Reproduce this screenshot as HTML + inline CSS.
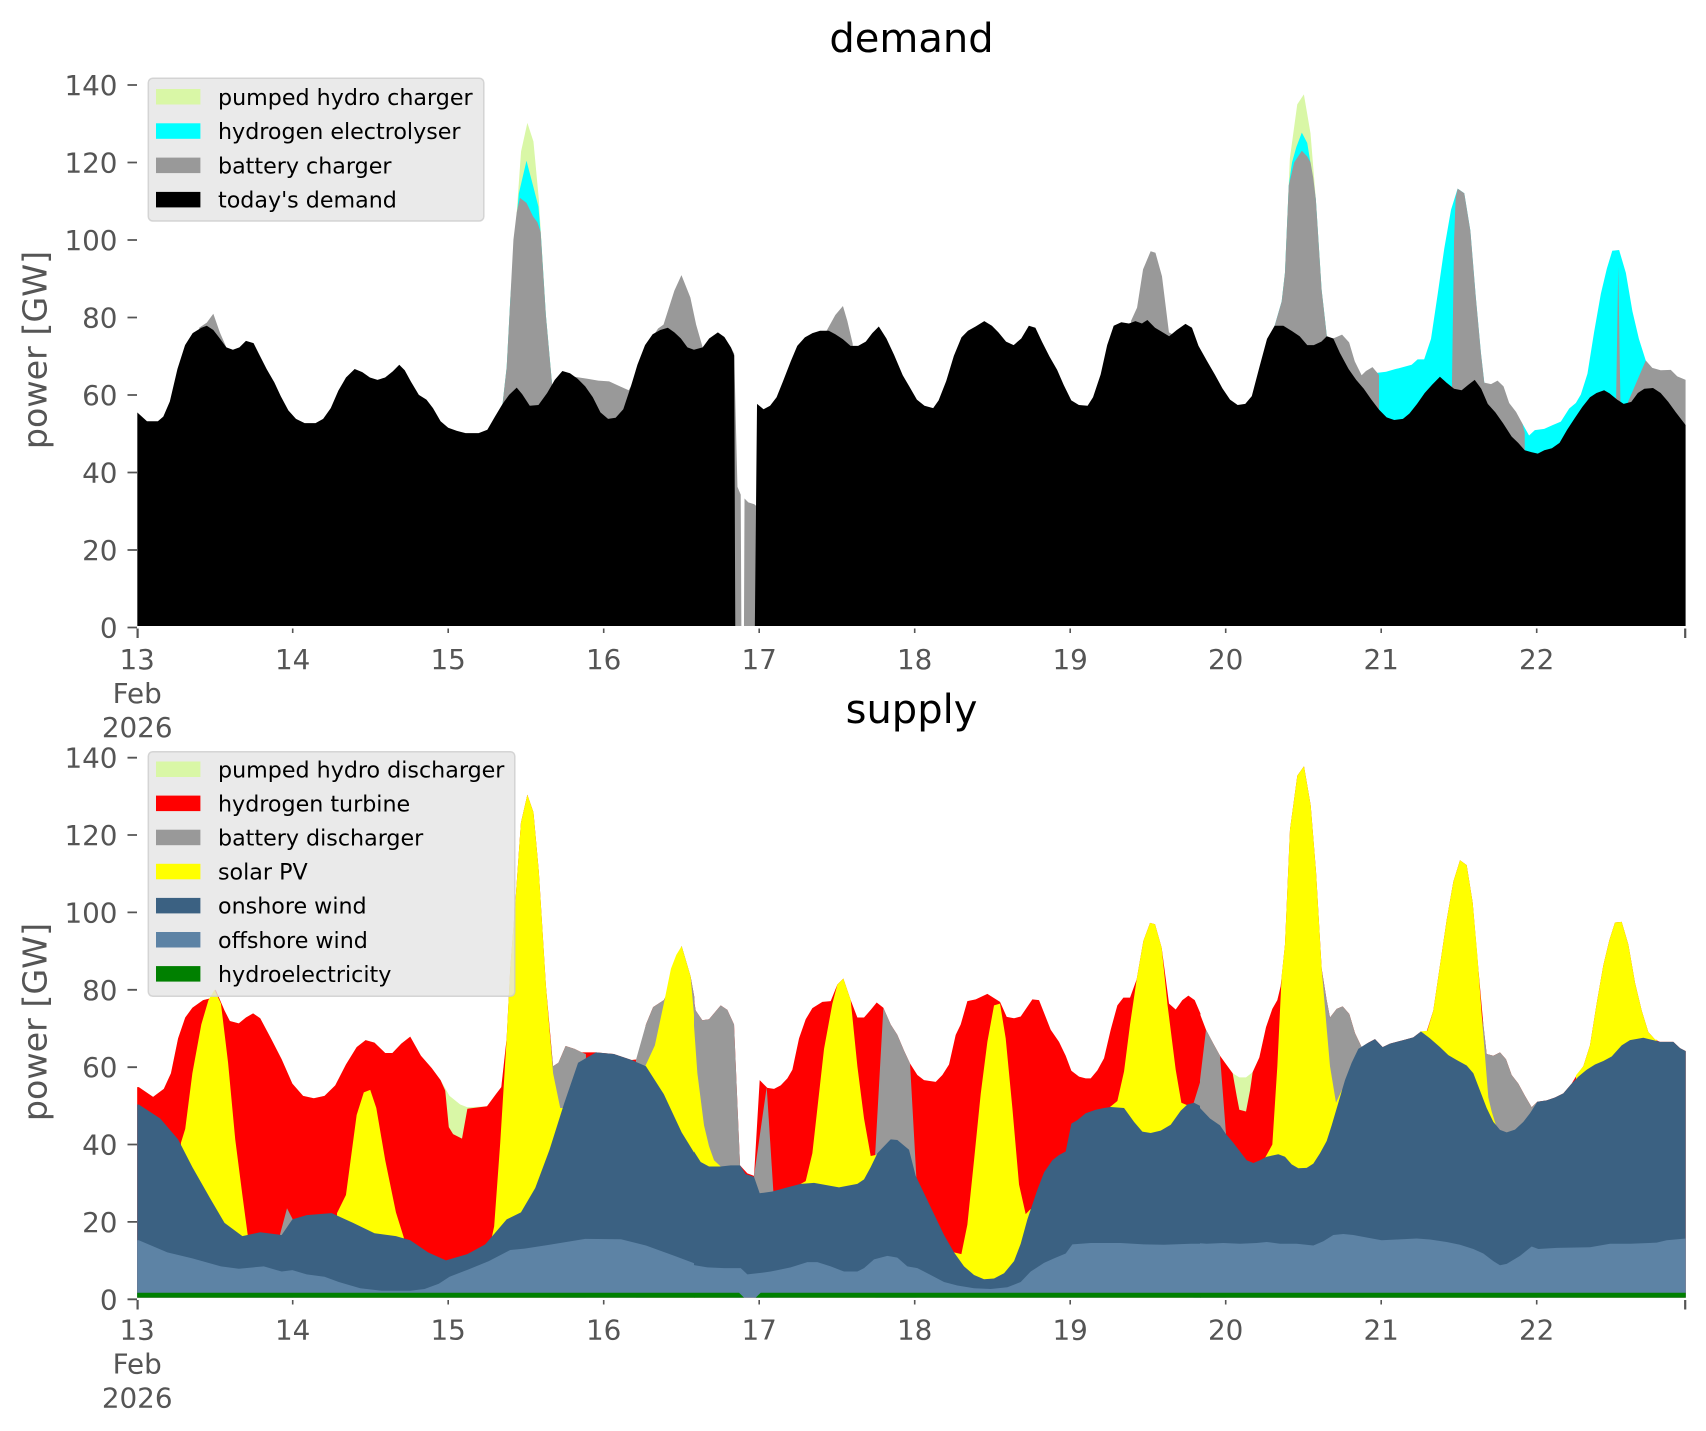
<!DOCTYPE html>
<html>
<head>
<meta charset="utf-8">
<style>
html,body{margin:0;padding:0;background:#fff;}
svg{display:block;}
text{font-family:"DejaVu Sans","Liberation Sans",sans-serif;}
</style>
</head>
<body>
<svg width="1706" height="1431" viewBox="0 0 1706 1431" xmlns="http://www.w3.org/2000/svg">
<defs>
<clipPath id="cA" clipPathUnits="userSpaceOnUse"><rect x="137.2" y="680" width="557.3" height="625"/></clipPath>
<clipPath id="cB" clipPathUnits="userSpaceOnUse"><rect x="694" y="680" width="506.5" height="625"/></clipPath>
<clipPath id="cC" clipPathUnits="userSpaceOnUse"><rect x="1200" y="680" width="485.7" height="625"/></clipPath>
<clipPath id="cU" clipPathUnits="userSpaceOnUse"><rect x="137.2" y="0" width="1548.5" height="626.5"/></clipPath>
</defs>
<rect x="0" y="0" width="1706" height="1431" fill="#fff"/>

<!-- ================= UPPER: demand ================= -->
<g clip-path="url(#cU)">
<g transform="matrix(1.08741 0 0 -3.864 0.186 626)">
<g fill="#d9f7a6">
<polygon points="462,57.5 465.8,67 469.2,85 474,103 479,122.8 484.8,130.2 490.4,125.4 495.4,110.2 501.8,80.5 508.4,59.8 508.4,0 462,0"/>
<polygon points="1172,77.7 1174.8,78.5 1178.5,84 1181.5,91.4 1186,121 1192.8,135 1198.9,137.6 1205,127.5 1209.9,110.4 1215.2,87 1216.7,83.3 1220,75 1220,0 1172,0"/>
</g>
<g fill="#00ffff">
<polygon points="462,57.5 465.8,67 469.2,85 474,103 477,112 484,120.4 490,114 495,108.5 497.5,100 501.8,80.5 508.4,59.8 508.4,0 462,0"/>
<polygon points="1172,77.7 1178.5,84 1181.5,91.4 1185,114 1188,120 1192,124 1197,127.7 1202,125 1206,118 1209.9,110.4 1215.2,87 1216.7,83.3 1220,75 1220,0 1172,0"/>
<polygon points="1266,65.5 1274.5,65.8 1282,66.4 1291.3,67.1 1298,67.6 1303.5,69 1309.5,69 1315.8,74.3 1322,86 1328,97.7 1334.2,107.7 1340.3,113.2 1346.4,112 1352,102.3 1357,85.1 1361.7,70.7 1364.8,63 1364.8,0 1266,0"/>
<polygon points="1400,52.3 1406,49.3 1411.3,50.7 1419.9,51 1427.6,52 1435.2,52.9 1442.9,56.3 1449,57.7 1453.6,59.9 1459.7,65.3 1465.8,76.1 1472,86 1477.5,92.5 1482.5,97.1 1488.8,97.3 1495,91.4 1501,81.5 1507,74.3 1513.3,68.7 1515,60 1515,0 1400,0"/>
</g>
<g fill="#999999">
<polygon points="183,77.2 190,78.5 196,80.8 202,76 208,72.1 208,0 183,0"/>
<polygon points="462,57.5 465.8,67 469.2,85 472,100 475,107 478,110.8 484,109.5 490,106 494,104.5 497,102 501.8,80.5 508.4,59.8 512,63.5 528,64.5 540,64 550,63.5 560,63.3 570,62 578,61 583,63.5 586,0 462,0"/>
<polygon points="598,74 605,77 610,78 620,86.8 626.5,90.8 634.7,85 640,78 646,72.1 646,0 598,0"/>
<polygon points="672,72.1 675,70.5 678,36 681,34 681.6,0 672,0"/>
<polygon points="684,0 684.5,33 688,32 693.5,31.5 695.5,31 695.5,0"/>
<polygon points="760,76.4 768,80.5 775,82.8 779,79 784,73 784,0 760,0"/>
<polygon points="1040,79 1045.5,82.4 1051,92.3 1058,97 1062.4,96.6 1068.4,90.5 1074.8,76 1078,75.5 1078,0 1040,0"/>
<polygon points="1172,77.7 1178.5,84 1181.5,91.4 1185,114 1190,120 1197,123 1202,121.5 1205,120 1207.5,116 1209.9,110.4 1215.2,87 1216.7,83.3 1220,75 1222,74 1229,74.8 1234,75.4 1240.5,73.4 1245.7,68.5 1252,64.9 1256,66 1262,67 1268,65 1268,0 1172,0"/>
<polygon points="1335,61 1337,100 1338.5,111 1340.3,113.2 1346.4,112 1352,102.3 1357,85.1 1361.7,70.7 1364.8,63 1371,62.6 1377,63.5 1382.5,62 1387.7,57.7 1394,55.4 1400,52.3 1402,50 1402,0 1335,0"/>
<polygon points="1486,58 1488,93 1490,58 1490,0 1486,0"/>
<polygon points="1497,58 1513.3,68.7 1519.3,66.8 1527,66.2 1536.3,66.3 1542.3,64.6 1550,63.7 1550,0 1497,0"/>
</g>
<g fill="#000000">
<polygon points="126,55.3 135,53 145,53 150,54.2 156,58.1 163,66.5 170,72.7 177,75.8 185,77.2 190,77.7 196,76.6 202,74.4 208,72.1 214,71.5 220,72.1 226,73.8 233,73.2 238,70.4 245,66.5 252,63.1 258,59.5 265,55.8 272,53.6 280,52.5 290,52.5 297,53.6 304,56.4 311,60.9 318,64.3 326,66.5 333,65.7 340,64.3 347,63.7 354,64.3 361,65.9 367,67.6 372,66.2 378,63.1 385,59.8 392,58.6 398,56.4 405,53 412,51.3 420,50.5 428,49.9 440,49.9 448,50.8 455,54.2 462,57.5 468,59.8 475,61.7 480,60 487,57 495,57.2 503,60.3 510,63.7 517,66 524,65.4 531,64 538,62 545,59.2 552,55.3 559,53.6 566,53.9 573,56.1 580,62 586,67.6 593,72.7 600,75.5 607,76.6 614,77.2 620,76 626,74.4 632,72.1 638,71.5 646,72.1 652,74.4 660,76 666,74.8 672,72.1 675,70 676,0 126,0"/>
<polygon points="694,0 696,57.5 702,56.1 708,57 714,59.2 720,63.4 727,68.5 733,72.5 740,74.7 747,75.8 754,76.4 762,76.4 768,75.5 775,74.2 782,72.5 789,72.5 796,73.6 802,75.8 808,77.5 815,74.4 822,70.2 830,64.9 836,62 843,58.6 850,57 858,56.4 863,58.4 870,63.4 877,69.9 884,74.7 890,76.4 897,77.5 905,78.9 912,77.7 918,76 925,73.6 932,72.7 939,74.4 946,77.7 952,77.2 958,73.6 965,69.7 972,66.3 978,62.4 985,58.4 992,57.2 1000,57 1005,59.2 1012,65.1 1018,72.7 1024,77.7 1031,78.6 1038,78.3 1044,78.9 1050,78.3 1055,79.2 1062,77.2 1068,76.2 1075,75 1082,76.6 1090,78.2 1096,77.2 1102,72.5 1110,68.5 1117,65.1 1124,61.5 1131,58.6 1138,57.2 1145,57.5 1151,59.5 1158,67 1165,74.3 1172,77.7 1180,77.7 1188,76.3 1195,75 1202,72.7 1208,72.7 1215,73.6 1220,75 1226,74.4 1232,70.7 1240,66.5 1247,63.7 1254,61.4 1261,58.6 1268,56 1275,54 1282,53.3 1290,53.6 1296,55 1303,57.5 1310,60.3 1317,62.5 1324,64.5 1330,63 1337,61.4 1344,61 1350,62.4 1356,63.7 1362,61.4 1368,57.5 1375,55.3 1382,52.5 1390,49 1396,47.4 1402,45.5 1408,45 1414,44.6 1420,45.5 1427,46 1434,47.4 1441,50.8 1448,53.8 1455,56.7 1462,59.2 1468,60.3 1475,61 1480,60.2 1487,58.6 1493,57.5 1500,58 1506,60.3 1512,61.4 1520,61.6 1527,60.3 1534,58 1541,55.3 1550,52 1550,0"/>
</g>
</g>
</g>

<!-- ================= LOWER: supply ================= -->
<g clip-path="url(#cA)">
<g transform="matrix(0.357143 0 0 0.348 138.8 760)">
<polygon fill="#d9f7a6" points="-5,940 0,940 40,968 70,945 90,900 110,800 130,740 150,712 180,690 200,685 215,660 240,720 255,750 280,757 300,740 320,728 340,742 370,800 400,860 430,930 460,965 490,972 520,965 550,935 580,875 610,825 635,805 660,812 690,842 710,842 735,815 760,795 790,850 820,885 845,920 870,965 900,990 920,998 975,995 1000,960 1015,940 1030,800 1040,600 1055,400 1070,180 1088,100 1105,150 1120,320 1140,650 1160,880 1175,870 1195,822 1220,830 1240,840 1280,840 1330,845 1380,862 1400,860 1420,760 1440,710 1470,690 1485,660 1500,580 1520,535 1545,622 1557,690 1565,720 1565,1545 -5,1545"/>
<polygon fill="#ff0000" points="-5,940 0,940 40,968 70,945 90,900 110,800 130,740 150,712 180,690 200,685 215,660 240,720 255,750 280,757 300,740 320,728 340,742 370,800 400,860 430,930 460,965 490,972 520,965 550,935 580,875 610,825 635,805 660,812 690,842 710,842 735,815 760,795 790,850 820,885 845,920 858,950 868,1055 880,1075 905,1088 920,1002 975,995 1000,960 1015,940 1030,800 1040,600 1055,400 1070,180 1088,100 1105,150 1120,320 1140,650 1160,880 1175,870 1195,822 1220,830 1240,840 1280,840 1330,845 1380,862 1400,860 1420,760 1440,710 1470,690 1485,660 1500,580 1520,535 1545,622 1557,690 1565,720 1565,1545 -5,1545"/>
<g fill="#999999">
<polygon points="395,1365 415,1288 432,1322 432,1545 395,1545"/>
<polygon points="1148,760 1160,880 1175,870 1195,822 1220,830 1240,840 1252,845 1252,1545 1148,1545"/>
<polygon points="1392,862 1420,760 1440,710 1470,690 1485,660 1500,580 1520,535 1545,622 1557,690 1565,720 1565,1545 1392,1545"/>
</g>
<g fill="#ffff00">
<polygon points="118,1100 130,1060 150,900 175,760 195,690 212,660 230,700 250,870 270,1090 290,1250 305,1365 305,1545 118,1545"/>
<polygon points="555,1302 580,1250 610,1020 630,955 648,948 665,1000 690,1150 720,1300 742,1372 742,1545 555,1545"/>
<polygon points="985,1388 995,1340 1012,1100 1030,800 1040,600 1055,400 1070,180 1088,100 1105,150 1120,320 1140,650 1160,900 1180,1000 1190,1000 1190,1545 985,1545"/>
<polygon points="1418,880 1445,820 1470,700 1490,600 1505,560 1520,535 1545,622 1557,760 1565,880 1565,1545 1418,1545"/>
</g>
<polygon fill="#3b6182" points="-5,990 0,990 60,1030 110,1090 150,1170 200,1260 240,1330 290,1368 340,1357 400,1365 430,1320 470,1308 540,1302 600,1330 660,1360 720,1368 760,1380 810,1415 860,1438 920,1420 970,1392 1030,1320 1070,1300 1110,1230 1150,1120 1190,990 1230,870 1280,840 1330,845 1380,862 1420,880 1470,960 1520,1070 1565,1145 1565,1545 -5,1545"/>
<polygon fill="#5d83a5" points="-5,1380 0,1380 80,1415 150,1432 230,1455 280,1462 350,1455 400,1470 430,1466 470,1478 520,1485 560,1500 620,1518 680,1525 760,1525 800,1520 840,1505 870,1485 920,1465 980,1440 1040,1408 1080,1404 1150,1393 1250,1376 1350,1377 1420,1395 1500,1425 1565,1450 1565,1545 -5,1545"/>
<polygon fill="#008000" points="-5,1531 1565,1531 1565,1545 -5,1545"/>
</g>
</g>

<g clip-path="url(#cB)">
<g transform="matrix(0.333333 0 0 0.348 690.7 760)">
<polygon fill="#ff0000" points="0,630 15,720 35,748 55,745 90,705 110,718 130,760 148,1165 170,1188 190,1195 207,920 230,942 250,945 270,935 290,915 305,890 325,800 345,745 365,713 395,695 420,693 440,645 458,628 480,690 500,740 520,740 540,718 558,697 578,712 600,760 620,790 640,835 658,872 680,905 700,920 735,925 755,905 775,875 795,790 810,760 830,693 855,688 890,672 928,695 948,738 970,742 990,737 1025,688 1045,690 1080,775 1105,810 1125,850 1142,893 1165,910 1185,915 1200,915 1220,892 1240,857 1260,775 1280,705 1298,683 1318,683 1338,630 1358,520 1378,468 1393,472 1413,540 1435,700 1455,717 1475,690 1493,677 1512,690 1530,730 1550,775 1565,795 1565,1545 0,1545"/>
<g fill="#999999">
<polygon points="0,640 15,720 35,748 55,745 90,705 110,718 130,760 148,1165 148,1545 0,1545"/>
<polygon points="190,1195 228,940 248,1240 248,1545 190,1545"/>
<polygon points="553,1140 578,712 600,760 620,790 640,835 658,872 677,1200 677,1545 553,1545"/>
<polygon points="1508,988 1530,920 1550,775 1565,795 1565,1545 1508,1545"/>
</g>
<g fill="#ffff00">
<polygon points="0,630 20,900 40,1050 55,1110 70,1150 92,1170 92,1545 0,1545"/>
<polygon points="330,1218 345,1210 365,1130 400,830 425,700 440,645 458,628 480,690 500,880 520,1030 540,1138 555,1135 562,1130 562,1545 330,1545"/>
<polygon points="790,1415 812,1420 830,1335 850,1150 870,960 890,810 910,705 928,700 945,800 965,1000 985,1220 1005,1305 1020,1290 1020,1545 790,1545"/>
<polygon points="1258,997 1280,980 1300,895 1318,760 1338,630 1358,520 1378,468 1393,472 1413,540 1430,700 1455,890 1472,985 1490,992 1490,1545 1258,1545"/>
</g>
<polygon fill="#3b6182" points="0,1110 30,1155 55,1168 90,1168 120,1165 148,1165 165,1190 190,1198 207,1245 245,1240 290,1228 330,1218 370,1215 445,1228 500,1218 520,1205 540,1170 560,1130 580,1110 600,1090 620,1092 655,1120 675,1195 700,1245 730,1305 760,1365 790,1415 820,1455 850,1480 880,1492 910,1490 940,1475 970,1440 990,1390 1010,1320 1040,1235 1060,1185 1085,1150 1105,1135 1125,1125 1142,1045 1160,1035 1185,1015 1215,1005 1240,1000 1260,997 1300,1000 1330,1040 1355,1068 1380,1072 1410,1065 1440,1048 1470,1008 1490,990 1510,985 1540,1000 1565,1018 1565,1545 0,1545"/>
<polygon fill="#5d83a5" points="0,1450 50,1458 100,1460 150,1460 170,1478 200,1475 240,1470 300,1458 350,1443 380,1443 420,1455 460,1470 500,1470 520,1460 550,1435 590,1425 620,1430 650,1455 680,1460 720,1480 760,1500 800,1510 850,1518 900,1520 950,1515 990,1500 1020,1470 1060,1445 1090,1432 1125,1418 1145,1392 1200,1388 1290,1388 1360,1392 1420,1393 1500,1390 1565,1390 1565,1545 0,1545"/>
<polygon fill="#008000" points="0,1531 145,1531 160,1545 195,1545 210,1531 1565,1531 1565,1545 0,1545"/>
</g>
</g>

<g clip-path="url(#cC)">
<g transform="matrix(0.333333 0 0 0.348 1190 760)">
<polygon fill="#d9f7a6" points="0,683 12,688 30,730 48,775 70,815 90,850 105,870 128,900 148,912 168,912 188,897 208,855 228,768 247,715 262,690 272,650 285,530 300,200 322,45 342,18 362,130 378,320 395,600 410,690 420,740 440,715 458,708 478,730 495,785 515,825 535,812 555,802 578,825 600,815 640,805 670,797 693,780 710,780 730,720 750,590 770,460 790,350 810,288 830,302 848,410 865,600 880,760 890,845 910,850 930,840 948,860 965,905 985,930 1005,965 1025,998 1042,982 1070,978 1095,970 1120,958 1145,930 1160,906 1180,880 1200,820 1220,700 1240,590 1258,518 1275,467 1295,465 1315,530 1335,640 1355,720 1375,782 1395,803 1410,810 1450,810 1470,828 1490,838 1490,1545 0,1545"/>
<polygon fill="#ff0000" points="0,683 12,688 30,730 48,775 70,815 90,850 105,870 128,900 140,965 148,1005 168,1010 180,950 188,897 208,855 228,768 247,715 262,690 272,650 285,530 300,200 322,45 342,18 362,130 378,320 395,600 410,690 420,740 440,715 458,708 478,730 495,785 515,825 535,812 555,802 578,825 600,815 640,805 670,797 693,780 710,780 730,720 750,590 770,460 790,350 810,288 830,302 848,410 865,600 880,760 890,845 910,850 930,840 948,860 965,905 985,930 1005,965 1025,998 1042,982 1070,978 1095,970 1120,958 1145,930 1160,906 1180,880 1200,820 1220,700 1240,590 1258,518 1275,467 1295,465 1315,530 1335,640 1355,720 1375,782 1395,803 1410,810 1450,810 1470,828 1490,838 1490,1545 0,1545"/>
<g fill="#999999">
<polygon points="0,985 30,920 48,775 70,815 90,850 108,1075 108,1545 0,1545"/>
<polygon points="393,590 410,690 420,740 440,715 458,708 478,730 495,785 515,825 522,830 522,1545 393,1545"/>
<polygon points="878,740 890,845 910,850 930,840 948,860 965,905 985,930 1005,965 1025,998 1042,982 1042,1545 878,1545"/>
</g>
<g fill="#ffff00">
<polygon points="226,1142 247,1105 262,880 275,620 285,530 300,200 322,45 342,18 362,130 378,320 395,600 410,770 420,880 438,985 456,948 456,1545 226,1545"/>
<polygon points="690,780 712,778 730,720 750,590 770,460 790,350 810,288 830,302 848,410 862,560 875,730 885,850 895,970 905,1010 922,1062 922,1545 690,1545"/>
<polygon points="1158,906 1180,880 1200,820 1220,700 1240,590 1258,518 1275,467 1295,465 1315,530 1335,640 1355,720 1375,782 1395,803 1400,803 1400,1545 1158,1545"/>
</g>
<polygon fill="#3b6182" points="0,988 30,1000 60,1030 90,1050 108,1075 130,1100 150,1125 170,1150 190,1158 210,1150 230,1140 265,1133 285,1140 305,1162 325,1173 350,1172 370,1160 390,1130 410,1095 425,1050 445,985 465,920 485,870 505,830 530,815 555,802 578,825 600,815 640,805 670,797 693,780 720,800 750,825 775,848 800,862 830,878 850,900 870,950 890,1000 910,1040 930,1063 950,1070 975,1062 1000,1040 1020,1015 1042,982 1070,978 1095,970 1120,958 1145,930 1165,910 1190,890 1215,875 1240,865 1265,852 1295,820 1320,805 1360,798 1390,805 1410,810 1450,810 1470,828 1490,838 1490,1545 0,1545"/>
<polygon fill="#5d83a5" points="0,1387 50,1390 100,1388 150,1390 200,1388 230,1385 270,1390 320,1390 370,1395 400,1383 430,1365 460,1362 490,1365 530,1372 575,1380 620,1378 680,1375 720,1378 770,1385 810,1393 850,1405 880,1418 910,1440 930,1452 950,1448 990,1425 1025,1398 1045,1405 1100,1402 1200,1400 1260,1390 1320,1390 1400,1387 1430,1380 1490,1375 1490,1545 0,1545"/>
<polygon fill="#008000" points="0,1531 1490,1531 1490,1545 0,1545"/>
</g>
</g>

<!-- ================= Axes decorations ================= -->
<g stroke="#555555" fill="none">
<path stroke-width="1.8" d="M127.5,627.5H137 M127.5,550H137 M127.5,472.5H137 M127.5,395H137 M127.5,317.5H137 M127.5,240H137 M127.5,162.5H137 M127.5,85H137"/>
<path stroke-width="1.8" d="M127.5,1299.3H137 M127.5,1221.9H137 M127.5,1144.5H137 M127.5,1067.2H137 M127.5,989.8H137 M127.5,912.4H137 M127.5,835H137 M127.5,757.7H137"/>
<path stroke-width="2.2" d="M137.6,628.5V638 M1685.2,628.5V638"/>
<path stroke-width="1.6" d="M292.7,628.5V633 M448.2,628.5V633 M603.7,628.5V633 M759.2,628.5V633 M914.7,628.5V633 M1070.2,628.5V633 M1225.7,628.5V633 M1381.2,628.5V633 M1536.7,628.5V633"/>
<path stroke-width="2.2" d="M137.6,1300V1309.5 M1685.2,1300V1309.5"/>
<path stroke-width="1.6" d="M292.7,1300V1304.5 M448.2,1300V1304.5 M603.7,1300V1304.5 M759.2,1300V1304.5 M914.7,1300V1304.5 M1070.2,1300V1304.5 M1225.7,1300V1304.5 M1381.2,1300V1304.5 M1536.7,1300V1304.5"/>
</g>

<g fill="#555555" font-size="27.8" text-anchor="end">
<text x="117.5" y="637.5">0</text>
<text x="117.5" y="560">20</text>
<text x="117.5" y="482.5">40</text>
<text x="117.5" y="405">60</text>
<text x="117.5" y="327.5">80</text>
<text x="117.5" y="250">100</text>
<text x="117.5" y="172.5">120</text>
<text x="117.5" y="95">140</text>
<text x="117.5" y="1309.3">0</text>
<text x="117.5" y="1231.9">20</text>
<text x="117.5" y="1154.5">40</text>
<text x="117.5" y="1077.2">60</text>
<text x="117.5" y="999.8">80</text>
<text x="117.5" y="922.4">100</text>
<text x="117.5" y="845">120</text>
<text x="117.5" y="767.7">140</text>
</g>

<g fill="#555555" font-size="27.8" text-anchor="middle">
<text x="137.2" y="669">13</text>
<text x="137.2" y="703">Feb</text>
<text x="137.2" y="737">2026</text>
<text x="292.7" y="669">14</text>
<text x="448.2" y="669">15</text>
<text x="603.7" y="669">16</text>
<text x="759.2" y="669">17</text>
<text x="914.7" y="669">18</text>
<text x="1070.2" y="669">19</text>
<text x="1225.7" y="669">20</text>
<text x="1381.2" y="669">21</text>
<text x="1536.7" y="669">22</text>
<text x="137.2" y="1339.5">13</text>
<text x="137.2" y="1373.5">Feb</text>
<text x="137.2" y="1407.5">2026</text>
<text x="292.7" y="1339.5">14</text>
<text x="448.2" y="1339.5">15</text>
<text x="603.7" y="1339.5">16</text>
<text x="759.2" y="1339.5">17</text>
<text x="914.7" y="1339.5">18</text>
<text x="1070.2" y="1339.5">19</text>
<text x="1225.7" y="1339.5">20</text>
<text x="1381.2" y="1339.5">21</text>
<text x="1536.7" y="1339.5">22</text>
</g>

<g fill="#555555" font-size="33.3" text-anchor="middle">
<text transform="translate(46.5,350) rotate(-90)">power [GW]</text>
<text transform="translate(46.5,1022) rotate(-90)">power [GW]</text>
</g>

<g fill="#000000" font-size="40" text-anchor="middle">
<text x="911.5" y="52">demand</text>
<text x="911.5" y="723">supply</text>
</g>

<rect x="148.3" y="78.3" width="335.5" height="142.7" rx="4.4" ry="4.4" fill="#e5e5e5" fill-opacity="0.8" stroke="#cccccc" stroke-opacity="0.8" stroke-width="1.5"/>
<rect x="156" y="89" width="44.4" height="15.5" fill="#d9f7a6"/>
<rect x="156" y="123.3" width="44.4" height="15.5" fill="#00ffff"/>
<rect x="156" y="157.6" width="44.4" height="15.5" fill="#999999"/>
<rect x="156" y="191.9" width="44.4" height="15.5" fill="#000000"/>
<g fill="#000000" font-size="22.2">
<text x="218" y="104.8">pumped hydro charger</text>
<text x="218" y="139.1">hydrogen electrolyser</text>
<text x="218" y="173.4">battery charger</text>
<text x="218" y="207.7">today's demand</text>
</g>

<rect x="148.3" y="751.7" width="366.5" height="244.5" rx="4.4" ry="4.4" fill="#e5e5e5" fill-opacity="0.8" stroke="#cccccc" stroke-opacity="0.8" stroke-width="1.5"/>
<rect x="156" y="761.5" width="44.4" height="15.5" fill="#d9f7a6"/>
<rect x="156" y="795.6" width="44.4" height="15.5" fill="#ff0000"/>
<rect x="156" y="829.7" width="44.4" height="15.5" fill="#999999"/>
<rect x="156" y="863.8" width="44.4" height="15.5" fill="#ffff00"/>
<rect x="156" y="897.9" width="44.4" height="15.5" fill="#3b6182"/>
<rect x="156" y="932" width="44.4" height="15.5" fill="#5d83a5"/>
<rect x="156" y="966.1" width="44.4" height="15.5" fill="#008000"/>
<g fill="#000000" font-size="22.2">
<text x="218" y="777.3">pumped hydro discharger</text>
<text x="218" y="811.4">hydrogen turbine</text>
<text x="218" y="845.5">battery discharger</text>
<text x="218" y="879.6">solar PV</text>
<text x="218" y="913.7">onshore wind</text>
<text x="218" y="947.8">offshore wind</text>
<text x="218" y="981.9">hydroelectricity</text>
</g>
</svg>
</body>
</html>
